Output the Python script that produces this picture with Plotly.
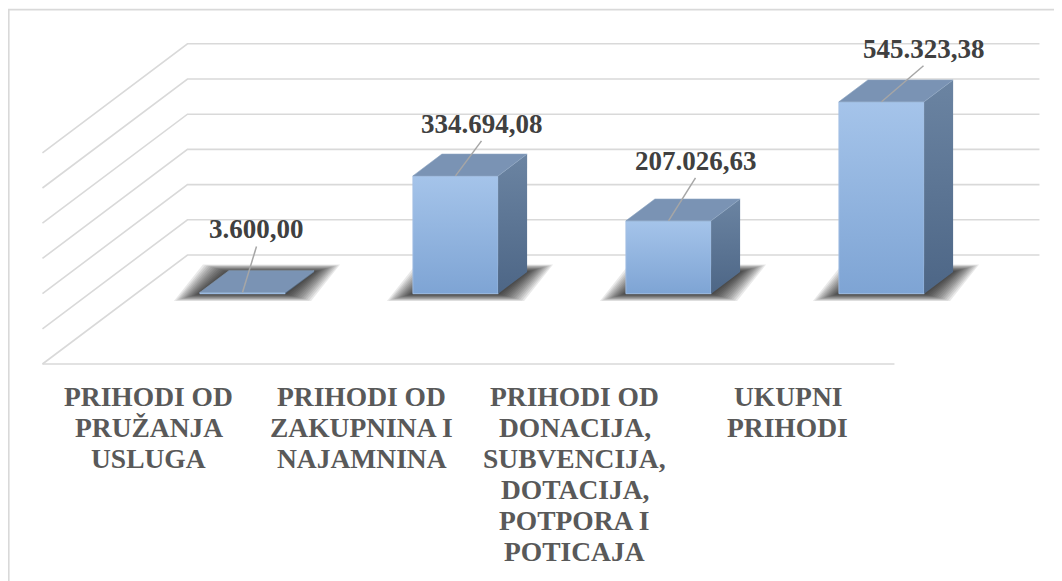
import plotly.graph_objects as go

# ---------------- data ----------------
categories = [
    "PRIHODI OD PRUŽANJA USLUGA",
    "PRIHODI OD ZAKUPNINA I NAJAMNINA",
    "PRIHODI OD DONACIJA, SUBVENCIJA, DOTACIJA, POTPORA I POTICAJA",
    "UKUPNI PRIHODI",
]
category_lines = [
    ["PRIHODI OD", "PRUŽANJA", "USLUGA"],
    ["PRIHODI OD", "ZAKUPNINA I", "NAJAMNINA"],
    ["PRIHODI OD", "DONACIJA,", "SUBVENCIJA,", "DOTACIJA,", "POTPORA I", "POTICAJA"],
    ["UKUPNI", "PRIHODI"],
]
values = [3600.00, 334694.08, 207026.63, 545323.38]
value_ticks = [0, 100000, 200000, 300000, 400000, 500000, 600000]

# ---------------- layout / style constants ----------------
PAGE_OFF = 8                      # browser body margin
W, H = 1062 - PAGE_OFF, 581 - PAGE_OFF
SP = 213.0                        # px per category step
KV = 0.000352                     # px per value unit
ORIGIN_PX = (242.5 - PAGE_OFF, 293.7 - PAGE_OFF)  # px of (category 0, value 0) on bar front plane
DEPTH_PX = (145.0, -109.0)        # screen vector of the full floor depth
ZB = 0.645                        # depth of bar fronts (0 = floor front, 1 = back wall)
BD = 0.2                          # bar depth
BW = 0.4                          # bar width (category units)
label_offsets = [(14, -63), (26, -52), (27, -60), (42, -53)]  # px offsets of value labels
CAT_FIRST_LINE_PX = 395.0 - PAGE_OFF
CAT_LINE_STEP = 31.0
FONT = "Liberation Serif, Times New Roman, serif"
VAL_TXT = "#404040"
CAT_TXT = "#595959"
GRID = "#d9d9d9"

DX = DEPTH_PX[0] / SP
DY = -DEPTH_PX[1] / KV


def P(c, v, z):
    """project (category, value, depth) into the axes' data coordinates"""
    return c + DX * (z - ZB), v + DY * (z - ZB)


def py_to_y(py):
    return (ORIGIN_PX[1] - py) / KV


def path(points, close=False):
    s = "M " + " L ".join(f"{x},{y}" for x, y in points)
    return s + (" Z" if close else "")


x_range = [-ORIGIN_PX[0] / SP, (W - ORIGIN_PX[0]) / SP]
y_range = [-(H - ORIGIN_PX[1]) / KV, ORIGIN_PX[1] / KV]
idx = list(range(len(categories)))
c_lo, c_hi = -0.5, len(categories) - 0.5

shapes = []
# outer chart border
shapes.append(dict(type="rect", xref="paper", yref="paper", x0=0.8 / W, y0=-0.05,
                   x1=1.05, y1=1 - 1.6 / H, line=dict(color=GRID, width=1.6), layer="below"))
# walls: gridlines on left wall + back wall
for v in value_ticks:
    pts = [P(c_lo, v, 0), P(c_lo, v, 1), P(c_hi, v, 1)]
    shapes.append(dict(type="path", xref="x", yref="y", path=path(pts),
                       line=dict(color=GRID, width=1.6), layer="below"))
# floor front edge
shapes.append(dict(type="path", xref="x", yref="y",
                   path=path([P(c_lo, 0, 0), P(c_hi, 0, 0)]),
                   line=dict(color=GRID, width=1.6), layer="below"))
# soft shadows under bars
for c in idx:
    fl = P(c - BW / 2, 0, ZB)
    fr = P(c + BW / 2, 0, ZB)
    br = P(c + BW / 2, 0, ZB + BD)
    bl = P(c - BW / 2, 0, ZB + BD)
    for e in range(26, 0, -2):
        ex, ey = e / SP, 0.28 * e / KV
        pts = [(fl[0] - ex, fl[1] - ey), (fr[0] + ex, fr[1] - ey),
               (br[0] + ex, br[1] + ey), (bl[0] - ex, bl[1] + ey)]
        shapes.append(dict(type="path", xref="x", yref="y", path=path(pts, True),
                           fillcolor="rgba(0,0,0,0.085)", line=dict(width=0), layer="below"))

fig = go.Figure()

# front faces
fig.add_trace(go.Bar(x=idx, y=values, width=BW, marker=dict(color="#93b4df", line=dict(width=0)),
                     hoverinfo="skip", showlegend=False))


def poly(pts):
    return [p[0] for p in pts] + [pts[0][0]], [p[1] for p in pts] + [pts[0][1]]


for c, v in zip(idx, values):
    # front face gradient
    fx, fy = poly([P(c - BW / 2, 0, ZB), P(c - BW / 2, v, ZB), P(c + BW / 2, v, ZB), P(c + BW / 2, 0, ZB)])
    fig.add_trace(go.Scatter(x=fx, y=fy, mode="lines", fill="toself", line=dict(width=0.8, color="#a6c1e4"),
                             fillgradient=dict(type="vertical", colorscale=[[0, "#7ea4d4"], [1, "#a5c4ea"]]),
                             hoverinfo="skip", showlegend=False))
    # side face
    sx, sy = poly([P(c + BW / 2, 0, ZB), P(c + BW / 2, v, ZB), P(c + BW / 2, v, ZB + BD), P(c + BW / 2, 0, ZB + BD)])
    fig.add_trace(go.Scatter(x=sx, y=sy, mode="lines", fill="toself", line=dict(width=0),
                             fillgradient=dict(type="vertical", colorscale=[[0, "#4d6686"], [1, "#6b84a2"]]),
                             hoverinfo="skip", showlegend=False))
    # top face
    tx, ty = poly([P(c - BW / 2, v, ZB), P(c + BW / 2, v, ZB), P(c + BW / 2, v, ZB + BD), P(c - BW / 2, v, ZB + BD)])
    fig.add_trace(go.Scatter(x=tx, y=ty, mode="lines", fill="toself", line=dict(width=0.6, color="#8aa2c0"),
                             fillcolor="#7a93b4", hoverinfo="skip", showlegend=False))


def fmt(v):
    s = f"{v:,.2f}"
    return s.replace(",", "X").replace(".", ",").replace("X", ".")


annotations = []
for c, v, (ox, oy) in zip(idx, values, label_offsets):
    x0, y0 = P(c, v, ZB)
    lx = x0 + ox / SP
    # leader line
    fig.add_trace(go.Scatter(x=[x0, lx], y=[y0, y0 - (oy + 17) / KV], mode="lines",
                             line=dict(color="#a6a6a6", width=1.5), hoverinfo="skip", showlegend=False))
    annotations.append(dict(x=lx, y=y0 - oy / KV, xref="x", yref="y", text=fmt(v), showarrow=False,
                            xanchor="center", yanchor="middle",
                            font=dict(family=FONT, size=27, color=VAL_TXT, weight="bold")))

# category labels along the floor front (one text row per wrapped line)
for c, lines in zip(idx, category_lines):
    fx_, _ = P(c, 0, 0)
    for k, line in enumerate(lines):
        annotations.append(dict(x=fx_, y=py_to_y(CAT_FIRST_LINE_PX + 1 + k * CAT_LINE_STEP), xref="x", yref="y",
                                text=line, showarrow=False, xanchor="center", yanchor="middle",
                                align="center", font=dict(family=FONT, size=27.5, color=CAT_TXT, weight="bold")))

fig.update_layout(
    width=W, height=H,
    margin=dict(l=0, r=0, t=0, b=0),
    paper_bgcolor="white", plot_bgcolor="white",
    xaxis=dict(range=x_range, visible=False, fixedrange=True),
    yaxis=dict(range=y_range, visible=False, fixedrange=True),
    shapes=shapes, annotations=annotations, showlegend=False,
)

fig.write_html("out.html")
